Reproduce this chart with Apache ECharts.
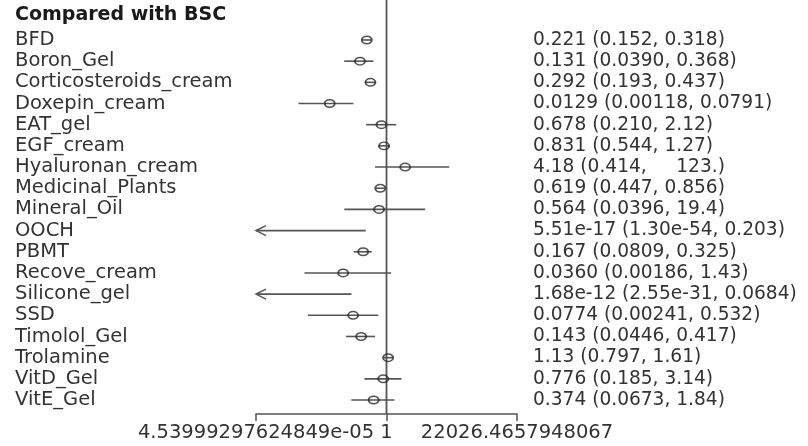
<!DOCTYPE html>
<html>
<head>
<meta charset="utf-8">
<script src="https://cdn.jsdelivr.net/npm/echarts@6/dist/echarts.min.js"></script>
<style>
html,body{margin:0;padding:0;background:#fff;}
#chart{width:808px;height:446px;}
</style>
</head>
<body>
<div id="chart"></div>
<script>
// ---- data ----
const groupTitle = 'Compared with BSC';
const treatments = ['BFD','Boron_Gel','Corticosteroids_cream','Doxepin_cream','EAT_gel','EGF_cream','Hyaluronan_cream','Medicinal_Plants','Mineral_Oil','OOCH','PBMT','Recove_cream','Silicone_gel','SSD','Timolol_Gel','Trolamine','VitD_Gel','VitE_Gel'];
const estimate = [0.221,0.131,0.292,0.0129,0.678,0.831,4.18,0.619,0.564,5.51e-17,0.167,0.0360,1.68e-12,0.0774,0.143,1.13,0.776,0.374];
const lower = [0.152,0.0390,0.193,0.00118,0.210,0.544,0.414,0.447,0.0396,1.30e-54,0.0809,0.00186,2.55e-31,0.00241,0.0446,0.797,0.185,0.0673];
const upper = [0.318,0.368,0.437,0.0791,2.12,1.27,123,0.856,19.4,0.203,0.325,1.43,0.0684,0.532,0.417,1.61,3.14,1.84];
const ciText = ['0.221 (0.152, 0.318)','0.131 (0.0390, 0.368)','0.292 (0.193, 0.437)','0.0129 (0.00118, 0.0791)','0.678 (0.210, 2.12)','0.831 (0.544, 1.27)','4.18 (0.414,     123.)','0.619 (0.447, 0.856)','0.564 (0.0396, 19.4)','5.51e-17 (1.30e-54, 0.203)','0.167 (0.0809, 0.325)','0.0360 (0.00186, 1.43)','1.68e-12 (2.55e-31, 0.0684)','0.0774 (0.00241, 0.532)','0.143 (0.0446, 0.417)','1.13 (0.797, 1.61)','0.776 (0.185, 3.14)','0.374 (0.0673, 1.84)'];
const xTickLabels = ['4.53999297624849e-05','1','22026.4657948067'];
const xMin = Math.exp(-10);
const xMax = Math.exp(10);
const refValue = 1;

// ---- build series data ----
const ciData = treatments.map((t, i) => [i, lower[i], upper[i]]);
const pointData = [];
estimate.forEach((v, i) => { if (v >= xMin && v <= xMax) pointData.push([v, i]); });

const FONT = 'DejaVu Sans';
const chart = echarts.init(document.getElementById('chart'), null, {renderer: 'canvas'});
chart.setOption({
  animation: false,
  backgroundColor: '#fff',
  title: {
    text: groupTitle,
    left: 10, top: 1,
    textStyle: {fontFamily: FONT, fontSize: 19, fontWeight: 'bold', color: '#1a1a1a'}
  },
  grid: {left: 256, right: 291, top: 29.4, bottom: 35.4},
  xAxis: {
    type: 'log',
    logBase: Math.E,
    min: xMin,
    max: xMax,
    interval: 10,
    offset: 3.5,
    splitLine: {show: false},
    axisLine: {show: true, lineStyle: {color: '#555', width: 1.5}},
    axisTick: {show: true, length: 7, lineStyle: {color: '#555', width: 1.5}},
    axisLabel: {
      showMinLabel: true, showMaxLabel: true,
      margin: 9,
      fontFamily: FONT, fontSize: 19.5, color: '#333',
      formatter: (v, idx) => xTickLabels[idx] !== undefined ? xTickLabels[idx] : ''
    }
  },
  yAxis: [{
    type: 'category',
    inverse: true,
    data: treatments,
    axisLine: {show: false},
    axisTick: {show: false},
    splitLine: {show: false},
    axisLabel: {
      interval: 0,
      align: 'left', margin: 241,
      padding: [3, 0, 0, 0],
      fontFamily: FONT, fontSize: 19.5, color: '#333'
    }
  }, {
    type: 'category',
    inverse: true,
    position: 'right',
    data: ciText,
    axisLine: {show: false},
    axisTick: {show: false},
    splitLine: {show: false},
    axisLabel: {
      interval: 0,
      align: 'left', margin: 16,
      padding: [3, 0, 0, 0],
      fontFamily: FONT, fontSize: 18.6, color: '#333'
    }
  }],
  series: [{
    type: 'custom',
    name: 'reference',
    data: [[refValue, 0]],
    encode: {x: 0, y: 1},
    z: 1,
    renderItem: (params, api) => {
      const p = api.coord([api.value(0), 0]);
      const cs = params.coordSys;
      return {
        type: 'line',
        shape: {x1: p[0], y1: 0, x2: p[0], y2: cs.y + cs.height + 3.5},
        style: {stroke: '#555', lineWidth: 1.8}
      };
    }
  }, {
    type: 'custom',
    name: 'CrI',
    data: ciData,
    encode: {x: [1, 2], y: 0},
    z: 2,
    renderItem: (params, api) => {
      const cat = api.value(0);
      const lo = api.value(1), hi = api.value(2);
      const p1 = api.coord([Math.max(lo, xMin), cat]);
      const p2 = api.coord([Math.min(hi, xMax), cat]);
      const children = [{
        type: 'line',
        shape: {x1: p1[0], y1: p1[1], x2: p2[0], y2: p2[1]},
        style: {stroke: '#555', lineWidth: 1.6}
      }];
      if (lo < xMin) {
        children.push({
          type: 'polyline',
          shape: {points: [[p1[0] + 10, p1[1] - 5], [p1[0], p1[1]], [p1[0] + 10, p1[1] + 5]]},
          style: {stroke: '#555', lineWidth: 1.5, fill: null}
        });
      }
      if (hi > xMax) {
        children.push({
          type: 'polyline',
          shape: {points: [[p2[0] - 10, p2[1] - 5], [p2[0], p2[1]], [p2[0] - 10, p2[1] + 5]]},
          style: {stroke: '#555', lineWidth: 1.5, fill: null}
        });
      }
      return {type: 'group', children};
    }
  }, {
    type: 'scatter',
    name: 'estimate',
    data: pointData,
    z: 3,
    symbol: 'circle',
    symbolSize: [10, 7.5],
    itemStyle: {color: 'rgba(0,0,0,0)', borderColor: '#2a2a2a', borderWidth: 1.7}
  }]
});
</script>
</body>
</html>
